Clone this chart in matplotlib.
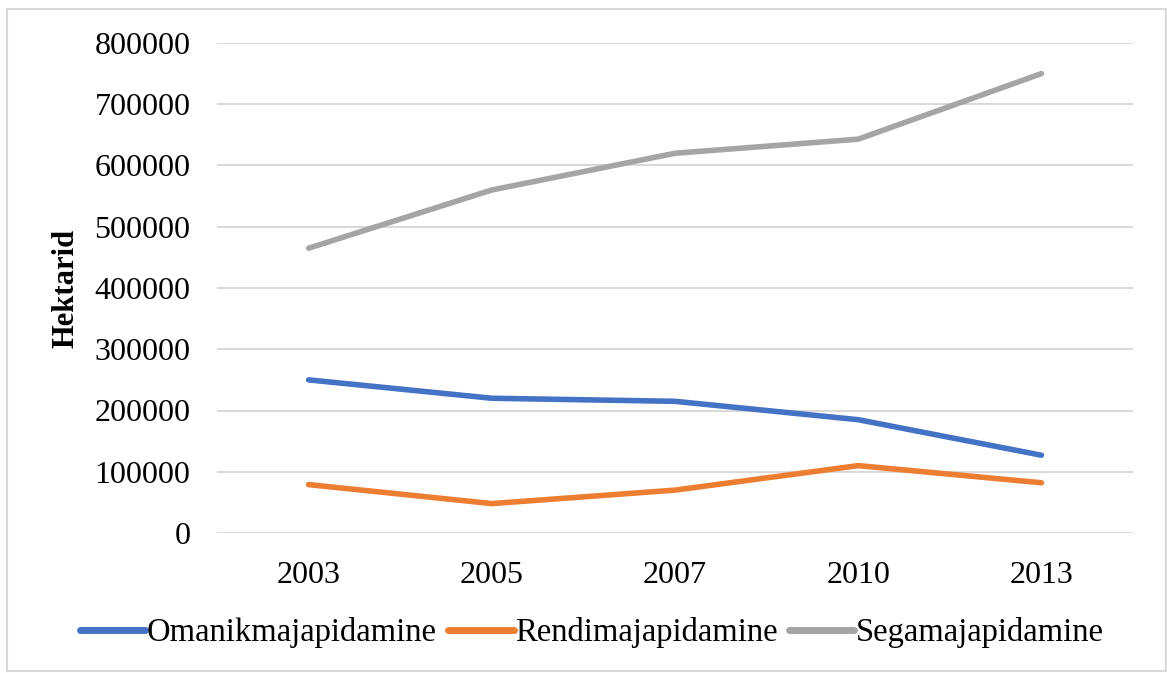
import matplotlib.pyplot as plt
from matplotlib.patches import Rectangle

years = ['2003', '2005', '2007', '2010', '2013']
omanik = [250000, 220000, 215000, 185000, 127000]
rendi = [79000, 48000, 70000, 110000, 82000]
sega = [465000, 560000, 620000, 643000, 750000]

plt.rcParams['font.family'] = ['Liberation Serif', 'DejaVu Serif']

fig = plt.figure(figsize=(11.67, 6.73), dpi=100)
ax = fig.add_axes([217 / 1167, 1 - 533 / 673, (1133 - 217) / 1167, (533 - 43) / 673])

x = range(len(years))
ax.plot(x, omanik, color='#4472C4', lw=4, solid_capstyle='round', label='Omanikmajapidamine')
ax.plot(x, rendi, color='#ED7D31', lw=4, solid_capstyle='round', label='Rendimajapidamine')
ax.plot(x, sega, color='#A5A5A5', lw=4, solid_capstyle='round', label='Segamajapidamine')

ax.set_xlim(-0.5, len(years) - 0.5)
ax.set_ylim(0, 800000)
ax.set_yticks(range(0, 800001, 100000))
ax.set_xticks(list(x))
ax.set_xticklabels(years)
ax.grid(axis='y', color='#d9d9d9', lw=1.5)
ax.set_axisbelow(True)
for s in ax.spines.values():
    s.set_visible(False)
ax.tick_params(length=0, labelsize=23, colors='black')
ax.tick_params(axis='y', pad=19)
ax.tick_params(axis='x', pad=20)

ax.set_ylabel('Hektarid', fontsize=22, fontweight='bold', labelpad=10)

leg = fig.legend(loc='center', bbox_to_anchor=(592 / 1167, 1 - 633 / 673), ncol=3, frameon=False,
                 fontsize=23.5, handlelength=2.0, handletextpad=0.05, columnspacing=0.35)
for h in leg.get_lines():
    h.set_linewidth(5)

fig.patches.append(Rectangle((7 / 1167, 2 / 673), 1159 / 1167, 662 / 673, transform=fig.transFigure,
                             fill=False, edgecolor='#d9d9d9', lw=1.5))

fig.savefig('out.png', dpi=100)
